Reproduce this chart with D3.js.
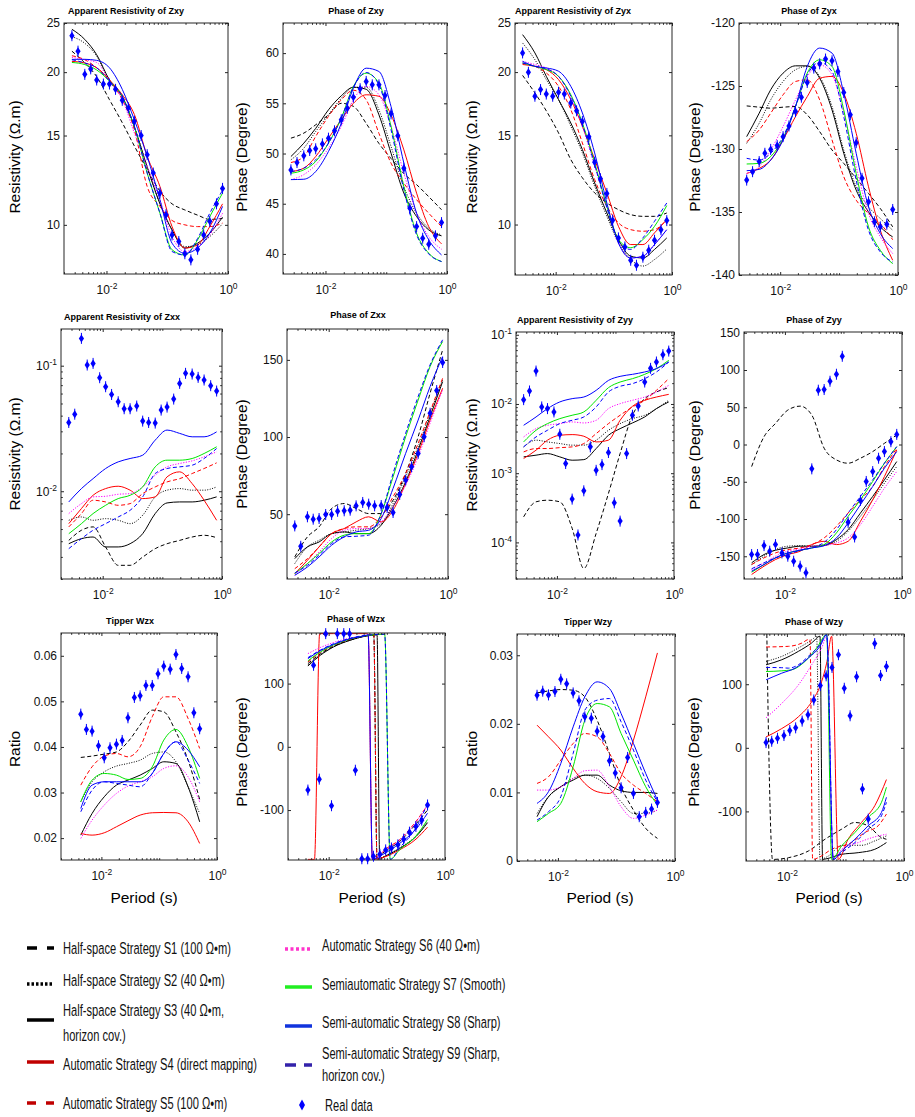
<!DOCTYPE html>
<html>
<head>
<meta charset="utf-8">
<script src="https://cdn.jsdelivr.net/npm/d3@7"></script>
<style>
  body { margin: 0; background: #fff; }
  svg { display: block; font-family: "Liberation Sans", Arial, Helvetica, sans-serif; }
  .tick text { font-size: 12px; fill: #111; }
  .tick line { stroke: #262626; }
</style>
</head>
<body>
<div id="chart"></div>
<script>
// periods (s)
var curvePer = [0.0027,0.0044,0.0069,0.0112,0.0182,0.0288,0.0468,0.0759,0.120,0.195,0.316,0.501,0.813];
var dataPer = [0.0027,0.0034,0.0044,0.0055,0.0069,0.0089,0.0112,0.0141,0.0182,0.0229,0.0288,0.0372,0.0468,0.0589,0.0759,0.0955,0.120,0.155,0.195,0.245,0.316,0.398,0.501,0.646,0.813];
var tipCurvePer = [0.0044,0.0069,0.0112,0.0182,0.0288,0.0468,0.0759,0.120,0.195,0.316,0.501];
var tipDataPer = [0.0044,0.0055,0.0069,0.0089,0.0112,0.0141,0.0182,0.0229,0.0288,0.0372,0.0468,0.0589,0.0759,0.0955,0.120,0.155,0.195,0.245,0.316,0.398,0.501];

// series order: S1..S9
var rhoXY = [
  [22.0,20.85,19.6,17.65,15.9,14.3,12.85,11.65,11.0,10.7,10.45,10.25,10.3],
  [23.5,22.8,21.5,19.2,17.8,15.6,13.0,11.0,9.77,9.06,9.13,9.48,10.05],
  [24.3,23.2,21.65,19.3,17.9,15.6,13.0,11.0,9.77,9.0,9.2,9.63,10.35],
  [21.0,20.85,20.4,19.3,18.05,16.5,13.65,11.9,9.92,9.0,9.13,9.92,11.0],
  [21.55,21.16,20.4,19.3,17.65,15.4,11.9,10.87,10.2,10.0,9.92,9.92,10.08],
  [21.4,21.16,20.9,19.2,17.65,15.17,13.03,11.2,9.48,8.86,9.06,9.55,10.54],
  [20.9,20.7,20.2,19.2,17.9,15.6,12.65,10.54,8.93,8.72,9.34,10.38,11.55],
  [21.2,21.2,21.1,20.4,18.5,16.1,13.65,11.2,9.2,8.79,9.0,9.63,10.87],
  [21.16,20.85,20.4,19.2,17.9,15.6,12.65,10.54,8.86,8.72,9.4,10.54,11.7]
];
var rhoXYData = [23.6,22.0,19.8,20.3,19.3,18.95,18.95,18.5,17.6,17.0,16.0,15.0,13.75,12.65,11.55,10.47,9.55,9.27,8.77,8.53,8.95,9.55,10.16,11.0,11.8];

var phsXY = [
  [51.53,52.03,52.86,53.85,55.0,54.7,53.0,51.0,49.5,48.0,46.9,45.7,44.4],
  [49.37,50.53,52.19,53.85,55.5,56.6,56.6,54.35,50.7,46.7,44.05,42.56,41.9],
  [49.7,51.03,52.5,54.35,55.75,56.6,56.4,53.85,50.03,46.05,43.72,42.39,41.8],
  [48.2,48.54,49.7,51.53,53.36,55.0,55.85,55.7,53.85,50.36,46.05,42.72,41.0],
  [49.1,49.7,51.7,53.7,55.35,56.3,55.35,52.0,49.04,47.04,45.4,44.05,42.72],
  [47.4,47.9,48.87,50.53,52.7,55.35,56.68,55.85,52.7,48.04,44.05,41.73,40.47],
  [48.04,48.37,49.2,51.03,53.52,56.68,58.0,57.0,52.7,46.7,42.06,40.07,39.24],
  [47.4,47.44,48.2,50.2,53.0,56.5,58.5,58.17,54.68,49.04,44.05,41.4,39.9],
  [48.2,48.54,49.37,51.03,53.52,56.6,58.07,56.84,52.36,46.38,41.9,40.0,39.24]
];
var phsXYData = [48.37,49.1,49.77,50.3,50.47,50.96,51.53,52.26,53.36,54.52,55.61,56.45,57.18,56.84,56.84,55.78,53.95,51.76,48.54,44.55,42.72,41.56,40.96,41.8,43.12];

var rhoYX = [
  [19.7,18.19,16.77,15.17,13.44,12.37,11.55,11.03,10.7,10.46,10.38,10.38,10.54],
  [22.83,21.16,19.33,17.65,15.64,13.85,11.9,10.38,9.2,8.53,8.28,8.53,8.95],
  [23.71,21.82,19.62,17.65,15.87,14.06,12.08,10.54,9.34,8.66,8.59,8.93,9.41],
  [20.7,20.53,20.23,19.33,17.65,15.64,13.44,11.55,9.92,9.13,9.13,9.63,10.23],
  [20.8,20.53,19.92,18.75,16.87,14.49,12.27,10.87,10.08,9.77,9.7,9.77,10.23],
  [21.0,20.7,20.38,19.62,17.92,15.64,13.03,10.87,9.2,8.59,8.66,9.13,9.77],
  [20.85,20.53,20.23,19.62,18.05,15.87,13.24,10.87,9.34,9.0,9.34,9.92,10.9],
  [21.0,20.53,20.38,20.08,18.75,16.61,13.85,11.03,9.2,8.59,8.66,9.13,9.77],
  [20.85,20.53,20.3,19.62,17.92,15.75,13.13,10.79,9.27,8.93,9.41,10.15,11.03]
];
var rhoYXData = [21.82,19.98,17.92,18.47,18.1,17.92,18.25,18.1,17.38,16.77,15.97,14.9,13.28,12.31,11.52,10.2,9.41,9.03,8.5,8.31,8.62,8.9,9.31,9.77,10.18];

var phsYX = [
  [-126.58,-126.68,-126.76,-126.68,-126.63,-127.29,-128.62,-130.08,-131.14,-132.33,-133.53,-134.72,-136.18],
  [-129.55,-127.96,-126.1,-124.64,-123.71,-123.45,-124.24,-126.63,-130.08,-133.0,-134.59,-135.52,-136.45],
  [-129.02,-127.16,-125.3,-123.98,-123.4,-123.4,-124.38,-126.9,-130.34,-133.26,-134.99,-136.18,-136.98],
  [-131.94,-131.54,-130.88,-129.28,-127.43,-125.84,-124.38,-124.24,-125.57,-128.75,-133.0,-136.45,-138.83],
  [-129.42,-128.49,-127.16,-125.7,-124.64,-124.51,-126.1,-129.28,-132.2,-134.06,-135.12,-135.92,-137.2],
  [-131.94,-131.4,-130.08,-128.22,-126.1,-124.24,-123.32,-124.11,-127.16,-131.4,-135.12,-136.98,-138.3],
  [-131.19,-131.14,-130.6,-129.15,-126.63,-123.98,-122.92,-123.45,-126.9,-131.94,-136.18,-138.04,-139.1],
  [-131.72,-131.62,-130.88,-129.28,-126.63,-123.45,-121.99,-122.39,-125.57,-130.34,-134.59,-136.71,-137.9],
  [-130.74,-130.88,-130.34,-129.02,-126.63,-124.11,-123.13,-123.85,-127.43,-132.47,-136.45,-138.17,-138.97]
];
var phsYXData = [-132.47,-131.8,-131.0,-130.34,-130.03,-129.73,-129.02,-128.17,-127.03,-125.89,-124.72,-123.58,-123.24,-122.86,-123.0,-123.85,-125.52,-127.29,-129.5,-132.33,-134.19,-135.78,-136.18,-135.97,-134.8];

var rhoXX = [
  [0.00406,0.00489,0.0052,0.0036,0.00257,0.00257,0.00299,0.00349,0.00382,0.00406,0.00432,0.00446,0.00427],
  [0.00587,0.00624,0.00587,0.00605,0.00587,0.00552,0.00644,0.00902,0.0102,0.0105,0.0102,0.0102,0.01083],
  [0.00382,0.00419,0.00432,0.0036,0.0036,0.00382,0.00459,0.00664,0.00807,0.00822,0.00822,0.00848,0.00902],
  [0.00552,0.00728,0.00929,0.0105,0.01096,0.0102,0.00874,0.00902,0.01302,0.01427,0.0115,0.00848,0.00587],
  [0.0052,0.00664,0.00848,0.00822,0.00773,0.00797,0.00958,0.01083,0.01187,0.0126,0.01384,0.01517,0.01683],
  [0.00664,0.00797,0.00902,0.00912,0.00946,0.00958,0.01083,0.01343,0.01564,0.01663,0.01746,0.01879,0.0206],
  [0.00459,0.00552,0.00664,0.00773,0.00874,0.00929,0.01083,0.01564,0.01768,0.01768,0.01823,0.01998,0.0226],
  [0.00822,0.0105,0.0126,0.01517,0.01714,0.01823,0.01937,0.02553,0.0307,0.0289,0.02714,0.02714,0.02973],
  [0.00349,0.00419,0.00489,0.00552,0.00624,0.00705,0.00902,0.01384,0.01517,0.01564,0.01612,0.01823,0.0219]
];
var rhoXXData = [0.0353,0.0411,0.165,0.1012,0.1043,0.0802,0.068,0.059,0.0516,0.0454,0.0454,0.0477,0.0362,0.0353,0.0349,0.0443,0.0468,0.0542,0.0723,0.0869,0.0858,0.0807,0.0769,0.0693,0.0628];

var phsXX = [
  [22.3,35.3,41.8,53.7,56.9,53.7,50.4,50.4,59.1,76.4,100.2,128.4,156.5],
  [18,28.8,33.1,37.4,38.5,39.6,40.7,43.9,56.9,74.2,93.7,115.4,137.0],
  [21.2,28.8,32.0,37.4,38.5,37.4,37.4,42.9,54.8,71.0,91.6,113.2,135.9],
  [11.5,20.1,28.8,37.4,40.7,45.0,48.3,45.0,52.6,69.9,89.4,111.0,131.6],
  [14.7,21.2,28.8,37.4,40.7,41.8,41.8,48.3,61.3,76.4,95.9,116.5,138.1],
  [10.4,18.0,25.5,34.2,39.6,40.7,40.7,45.0,54.8,68.8,87.2,108.9,130.5],
  [11.5,18.0,24.5,32.0,36.4,37.4,37.4,50.4,74.2,100.2,124.0,145.7,161.9],
  [10.4,15.8,22.3,29.9,35.3,38.5,39.6,47.2,66.7,89.4,111.0,132.7,152.2],
  [11.9,16.9,23.4,31.0,35.3,35.7,36.4,50.4,76.4,102.4,126.2,146.8,163.0]
];
var phsXXData = [42.4,29.2,48.3,46.75,47.2,49.8,49.8,51.9,52.2,52.6,55.4,57.6,56.5,55.4,55.6,54.3,51.1,62.8,72.1,80.7,89.4,100.2,115.4,130.1,148.3];

var rhoYY = [
  [0.000234,0.000386,0.000407,0.000386,0.00016,0.000042,0.000135,0.00051,0.00192,0.00687,0.01194,0.0149,0.0172],
  [0.0024,0.003,0.00283,0.00268,0.00254,0.00254,0.003,0.00417,0.0052,0.00614,0.00687,0.00857,0.0113],
  [0.00172,0.00182,0.00192,0.00172,0.00154,0.00157,0.00227,0.00353,0.0044,0.00532,0.00649,0.00857,0.0107],
  [0.00163,0.00215,0.003,0.00353,0.00361,0.00342,0.00283,0.003,0.00581,0.00925,0.0113,0.0126,0.01377],
  [0.00203,0.00227,0.00227,0.00234,0.0024,0.00268,0.00373,0.0052,0.00687,0.00906,0.0113,0.01574,0.0232],
  [0.00334,0.0044,0.00492,0.0052,0.0055,0.00532,0.00581,0.00857,0.0101,0.0113,0.0126,0.0149,0.01858],
  [0.00283,0.00417,0.0052,0.00614,0.00687,0.00767,0.0113,0.0172,0.02075,0.0232,0.0268,0.0324,0.0427],
  [0.00492,0.00649,0.00857,0.0107,0.01194,0.0126,0.01574,0.0219,0.02506,0.0268,0.029,0.0324,0.0404],
  [0.0024,0.00334,0.00417,0.0052,0.00581,0.00649,0.00906,0.0149,0.018,0.01965,0.0232,0.029,0.0404]
];
var rhoYYData = [0.01155,0.0154,0.0299,0.00906,0.00857,0.00767,0.00365,0.00138,0.000422,0.000128,0.000556,0.0024,0.0011,0.00133,0.00199,0.000373,0.000203,0.00192,0.00687,0.00935,0.02075,0.0327,0.0404,0.0515,0.0581];

var phsYY = [
  [-29.6,10.5,28.3,46.2,51.5,39.5,-5.0,-20.7,-25.1,-18.4,-9.5,1.6,12.7],
  [-161.1,-149.9,-141.0,-136.5,-135.7,-136.5,-134.3,-129.9,-116.5,-96.4,-74.2,-51.9,-29.6],
  [-158.8,-147.7,-141.9,-138.8,-136.5,-136.5,-135.7,-127.6,-114.3,-92.0,-69.7,-47.4,-22.9],
  [-174.4,-163.3,-154.4,-147.7,-143.2,-134.3,-129.9,-134.3,-129.9,-103.1,-74.2,-43.0,-7.3],
  [-161.1,-152.1,-145.5,-141.0,-138.8,-134.3,-125.4,-109.8,-92.0,-74.2,-56.3,-29.6,-5.1],
  [-167.7,-158.8,-149.9,-143.2,-140.1,-136.5,-135.7,-132.1,-125.4,-107.6,-83.1,-58.6,-36.3],
  [-171.3,-161.1,-152.1,-145.5,-141.9,-138.8,-134.3,-118.7,-96.4,-74.2,-49.6,-25.1,-2.9],
  [-170.0,-161.1,-152.1,-145.5,-141.9,-138.8,-135.7,-125.4,-105.3,-80.8,-56.3,-31.8,-9.5],
  [-166.8,-158.8,-152.1,-147.7,-141.9,-138.8,-131.2,-114.3,-92.0,-69.7,-47.4,-25.1,-2.9]
];
var phsYYData = [-147.7,-147.7,-135.7,-143.2,-134.3,-145.5,-149.9,-156.6,-163.3,-172.2,-32.7,72.9,73.8,84.9,94.3,118.4,-104.5,-124.1,-75.0,-49.6,-36.3,-18.4,-9.5,3.8,13.6];

var tipZX = [
  [0.0377,0.038,0.03843,0.0389,0.04113,0.04479,0.04808,0.04771,0.0433,0.0371,0.0285],
  [0.028,0.03236,0.03455,0.0358,0.03638,0.03711,0.03857,0.0389,0.03675,0.03126,0.02541],
  [0.02066,0.02541,0.02907,0.03163,0.03272,0.03382,0.03528,0.03675,0.03638,0.03126,0.02358],
  [0.0210,0.02066,0.02117,0.02249,0.0238,0.02505,0.02556,0.02563,0.02556,0.02358,0.01883],
  [0.03163,0.03565,0.038,0.03857,0.03784,0.04004,0.04662,0.051,0.051,0.04625,0.03967],
  [0.01993,0.02395,0.02724,0.0298,0.03141,0.03236,0.03345,0.03528,0.03587,0.03345,0.02797],
  [0.028,0.03272,0.03418,0.03382,0.03287,0.03309,0.03565,0.0415,0.04384,0.04004,0.03309],
  [0.02651,0.03163,0.03236,0.03236,0.03236,0.03236,0.03418,0.03857,0.04113,0.0393,0.03565],
  [0.02578,0.03053,0.03236,0.032,0.03163,0.03126,0.03418,0.03857,0.04113,0.03711,0.032]
];
var tipZXData = [0.0472,0.04384,0.04347,0.04026,0.03762,0.03982,0.04062,0.04143,0.0464,0.05086,0.05122,0.05349,0.05349,0.05605,0.05773,0.05707,0.06029,0.05722,0.05539,0.0475,0.04399];

// phase of tipper wraps at +-180, so each series keeps its own [period, value] pairs
var phsWZX = [
  [[0.0044,131.6],[0.00718,147],[0.0121,159],[0.0232,169],[0.0447,175.5],[0.0596,177],[0.0679,-178],[0.0859,-168],[0.165,-150],[0.317,-122],[0.501,-100]],
  [[0.0044,129.5],[0.00718,146],[0.0121,158.5],[0.0232,168.5],[0.0447,175.3],[0.0596,177],[0.0679,-178],[0.0859,-174],[0.165,-160],[0.317,-141],[0.501,-118]],
  [[0.0044,127.9],[0.00718,144.7],[0.0121,157.9],[0.0232,168.4],[0.0447,175.3],[0.0679,177],[0.0754,-178],[0.0859,-175],[0.165,-161],[0.317,-142],[0.501,-120]],
  [[0.0044,-178],[0.0057,-178],[0.0070,179],[0.0121,179],[0.0232,179],[0.0447,179],[0.0477,178],[0.0565,-178],[0.0859,-175],[0.165,-163],[0.317,-146],[0.501,-127]],
  [[0.0044,134.2],[0.00718,149],[0.0121,160.5],[0.0232,170],[0.0447,176],[0.0596,177],[0.0679,-178],[0.0859,-166],[0.165,-147],[0.317,-118],[0.501,-92]],
  [[0.0044,147.4],[0.00718,157],[0.0121,165],[0.0232,172],[0.0447,177],[0.0477,178],[0.0565,-178],[0.0859,-166],[0.165,-148],[0.317,-119],[0.501,-92]],
  [[0.0044,136],[0.00718,150],[0.0121,161],[0.0232,170.5],[0.0447,176],[0.0917,178],[0.1145,-178],[0.165,-163],[0.317,-141],[0.501,-115]],
  [[0.0044,139.5],[0.00718,152],[0.0121,162],[0.0232,171],[0.0447,176.5],[0.0477,177.5],[0.0565,-178],[0.0859,-170],[0.165,-153],[0.317,-130],[0.501,-105]],
  [[0.0044,141],[0.00718,153],[0.0121,163],[0.0232,171.5],[0.0447,176.5],[0.0917,178],[0.1145,-178],[0.165,-160],[0.317,-128],[0.501,-90]]
];
var phsWZXData = [-68.4,128.9,-51.1,179,-93.2,179,179,179,-37,-177,-177,-173,-170,-163,-160,-155,-146,-135,-126,-116,-92];

var tipZY = [
  [0.02451,0.0248,0.025,0.0249,0.02393,0.02053,0.01568,0.01083,0.00743,0.00476,0.0033],
  [0.00694,0.00937,0.01083,0.01204,0.01252,0.01204,0.01058,0.00864,0.00694,0.00694,0.00743],
  [0.00646,0.00937,0.01083,0.0118,0.01252,0.01252,0.01107,0.01024,0.01,0.01,0.00985],
  [0.01981,0.01811,0.01617,0.0135,0.01131,0.0101,0.00985,0.01228,0.01762,0.02393,0.03034],
  [0.01131,0.01228,0.01471,0.01714,0.01859,0.01811,0.01568,0.01277,0.01107,0.00985,0.00864],
  [0.01034,0.01034,0.01083,0.01204,0.01316,0.01325,0.01083,0.00791,0.00621,0.0067,0.00743],
  [0.00573,0.00694,0.0084,0.01374,0.02053,0.02296,0.02248,0.01859,0.01471,0.01083,0.00816],
  [0.0084,0.0101,0.01422,0.01956,0.02393,0.02612,0.02515,0.0215,0.01714,0.01277,0.00888],
  [0.00597,0.00718,0.00937,0.01568,0.02199,0.02345,0.02369,0.02029,0.01617,0.0118,0.00864]
];
var tipZYData = [0.02417,0.02476,0.02422,0.02471,0.0265,0.02583,0.02451,0.02335,0.02102,0.02083,0.01893,0.01816,0.01461,0.01282,0.01068,0.0151,0.00985,0.00646,0.00709,0.00757,0.00854];

var phsWZY = [
  [[0.00454,179],[0.00487,9],[0.00568,-175.5],[0.0106,-172.8],[0.0232,-162.3],[0.0447,-143.8],[0.0859,-128],[0.145,-117.4],[0.244,-122.7],[0.412,-141.2],[0.501,-143.8]],
  [[0.0044,135.9],[0.00817,143.8],[0.0157,157],[0.0283,171.8],[0.0322,176],[0.0367,-175.5],[0.0509,-170.2],[0.0859,-153.3],[0.188,-153.3],[0.317,-146.4],[0.501,-138.5]],
  [[0.0044,130.6],[0.00817,138.5],[0.0157,151.7],[0.0265,164.9],[0.0367,175.5],[0.0407,-175.5],[0.0447,-175],[0.0859,-167.5],[0.165,-164.9],[0.317,-159.6],[0.501,-149]],
  [[0.0044,17.2],[0.00817,30.3],[0.0157,48.8],[0.0265,72.6],[0.0392,104.2],[0.0477,133.2],[0.0581,175.5],[0.0754,-175.5],[0.111,-143.8],[0.188,-117.4],[0.317,-91],[0.501,-49.9]],
  [[0.0044,158.6],[0.0106,159.6],[0.0183,165],[0.0232,170.2],[0.0248,170.2],[0.0275,-175.5],[0.0344,-172.8],[0.058,-159.6],[0.127,-149],[0.214,-133.2],[0.361,-122.7],[0.501,-104.2]],
  [[0.0044,47.2],[0.00817,69.9],[0.0157,98.9],[0.0265,130.6],[0.0392,157],[0.0477,175.5],[0.062,-175.5],[0.0859,-159.6],[0.165,-149],[0.317,-140],[0.501,-135.9]],
  [[0.0044,120],[0.00817,121.1],[0.0121,122.7],[0.0204,135.9],[0.0322,157],[0.0477,178],[0.058,-175.5],[0.0859,-154.4],[0.145,-133.2],[0.244,-109.5],[0.412,-85.8],[0.501,-62]],
  [[0.0044,106.9],[0.00817,117.4],[0.0138,125.3],[0.0232,141.2],[0.0367,159.6],[0.0477,178],[0.062,-175.5],[0.0859,-162.3],[0.145,-143.8],[0.244,-122.7],[0.412,-101.6],[0.501,-77.8]],
  [[0.0044,126.4],[0.00817,126],[0.0106,125.3],[0.0157,130.6],[0.0232,143.8],[0.0367,162.3],[0.0477,178],[0.062,-175.5],[0.0859,-164.9],[0.145,-149],[0.244,-128],[0.412,-106.9],[0.501,-85.8]]
];
var phsWZYData = [8.2,10.3,15.0,19.3,27.2,31.4,42.0,52.0,75.2,97.9,113.2,126.4,146.4,93.7,50.4,111.6,-64.6,-112.1,163.9,113.7,128.0];

var legendLabels = [
  ['Half-space Strategy S1 (100 Ω•m)'],
  ['Half-space Strategy S2 (40 Ω•m)'],
  ['Half-space Strategy S3 (40 Ω•m,', 'horizon cov.)'],
  ['Automatic Strategy S4 (direct mapping)'],
  ['Automatic Strategy S5 (100 Ω•m)'],
  ['Automatic Strategy S6 (40 Ω•m)'],
  ['Semiautomatic Strategy S7 (Smooth)'],
  ['Semi-automatic Strategy S8 (Sharp)'],
  ['Semi-automatic Strategy S9 (Sharp,', 'horizon cov.)'],
  ['Real data']
];

// line styles in the plots
var styles = [
  {c: '#000', d: '4,2.5'}, {c: '#000', d: '1,1.5'}, {c: '#000', d: null},
  {c: '#ff0000', d: null}, {c: '#ff0000', d: '4,2.5'}, {c: '#ff00ff', d: '1.2,1.5'},
  {c: '#00e600', d: null}, {c: '#0000ff', d: null}, {c: '#0000ff', d: '4,2.5'}
];
// legend line styles (thicker, slightly different shades)
var legStyles = [
  {c: '#000', d: '10,10'}, {c: '#000', d: '2.5,2'}, {c: '#000', d: null},
  {c: '#c00000', d: null}, {c: '#c00000', d: '9,10'}, {c: '#ff33cc', d: '3,2.5'},
  {c: '#22ee22', d: null}, {c: '#1133dd', d: null}, {c: '#3322aa', d: '11,8'}
];

var plain = function(d) { return String(+d.toFixed(4)); };

var panels = [
  {title: 'Apparent Resistivity of Zxy', box: [64,23,228,274], log: true, yd: [8,25], yt: [10,15,20,25], yl: 'Resistivity (Ω.m)', curves: rhoXY, data: rhoXYData, tx: 126, ty: 14, lx: 15, ly: 157},
  {title: 'Phase of Zxy', box: [283,23,447,274], yd: [38,63], yt: [40,45,50,55,60], yl: 'Phase (Degree)', curves: phsXY, data: phsXYData, tx: 356, ty: 14, lx: 242, ly: 157},
  {title: 'Apparent Resistivity of Zyx', box: [515,23,672,275], log: true, yd: [7.95,25], yt: [10,15,20,25], yl: 'Resistivity (Ω.m)', curves: rhoYX, data: rhoYXData, tx: 573, ty: 14, lx: 472, ly: 157},
  {title: 'Phase of Zyx', box: [739,23,898,275], yd: [-140,-120], yt: [-140,-135,-130,-125,-120], yl: 'Phase (Degree)', curves: phsYX, data: phsYXData, tx: 809, ty: 14, lx: 695, ly: 157},
  {title: 'Apparent Resistivity of Zxx', box: [61,329,222,579], log: true, exp: true, yd: [0.002,0.196], yt: [0.01,0.1], yl: 'Resistivity (Ω.m)', curves: rhoXX, data: rhoXXData, tx: 122, ty: 320, lx: 15, ly: 454},
  {title: 'Phase of Zxx', box: [287,329,448,579], yd: [8,170], yt: [50,100,150], yl: 'Phase (Degree)', curves: phsXX, data: phsXXData, tx: 358, ty: 318, lx: 242, ly: 454},
  {title: 'Apparent Resistivity of Zyy', box: [516,332,674,579], log: true, exp: true, yd: [2.96e-5,0.1096], yt: [0.0001,0.001,0.01,0.1], yl: 'Resistivity (Ω.m)', curves: rhoYY, data: rhoYYData, tx: 575, ty: 323, lx: 472, ly: 455},
  {title: 'Phase of Zyy', box: [744,332,902,579], yd: [-180.5,151], yt: [-150,-100,-50,0,50,100,150], yl: 'Phase (Degree)', curves: phsYY, data: phsYYData, tx: 814, ty: 323, lx: 695, ly: 455},
  {title: 'Tipper Wzx', box: [61,633,217,860], yd: [0.0152,0.065], yt: [0.02,0.03,0.04,0.05,0.06], yl: 'Ratio', curves: tipZX, data: tipZXData, tip: true, tx: 130, ty: 624, lx: 15, ly: 749, xl: 144},
  {title: 'Phase of Wzx', box: [288,633,445,860], yd: [-179,180], yt: [-100,0,100], yl: 'Phase (Degree)', curves: phsWZX, pairs: true, data: phsWZXData, tip: true, tx: 356, ty: 622, lx: 242, ly: 752, xl: 372},
  {title: 'Tipper Wzy', box: [517,634,675,861], yd: [0,0.0331], yt: [0,0.01,0.02,0.03], yl: 'Ratio', curves: tipZY, data: tipZYData, tip: true, tx: 588, ty: 625, lx: 472, ly: 749, xl: 600},
  {title: 'Phase of Wzy', box: [746,634,904,861], yd: [-178,179], yt: [-100,0,100], yl: 'Phase (Degree)', curves: phsWZY, pairs: true, data: phsWZYData, tip: true, tx: 814, ty: 625, lx: 694, ly: 752, xl: 829}
];

var svg = d3.select('#chart').append('svg').attr('width', 915).attr('height', 1117);
svg.append('rect').attr('width', 915).attr('height', 1117).attr('fill', '#fff');

// superscript label "10^n"
function powLabel(sel, d) {
  var e = Math.round(Math.log10(d));
  sel.text('10');
  sel.append('tspan').attr('dy', '-0.55em').style('font-size', '8.5px').text(e);
}

function minorTicks(scale) {
  return scale.ticks().filter(function(v) {
    var l = Math.log10(v);
    return Math.abs(l - Math.round(l)) > 1e-6 || Math.round(l) === -1;
  });
}

panels.forEach(function(p, pi) {
  var l = p.box[0], t = p.box[1], r = p.box[2], b = p.box[3];
  var g = svg.append('g');
  var x = d3.scaleLog().domain([0.002, 1]).range([l, r]);
  var y = (p.log ? d3.scaleLog() : d3.scaleLinear()).domain(p.yd).range([b, t]);

  var clipId = 'clip' + pi;
  g.append('clipPath').attr('id', clipId).append('rect')
    .attr('x', l).attr('y', t).attr('width', r - l).attr('height', b - t);

  var plot = g.append('g').attr('clip-path', 'url(#' + clipId + ')');
  var line = d3.line()
    .x(function(d) { return x(d[0]); })
    .y(function(d) { return y(d[1]); })
    .curve(d3.curveMonotoneX);

  var cper = p.tip ? tipCurvePer : curvePer;
  p.curves.forEach(function(vals, si) {
    var pts = p.pairs ? vals : cper.map(function(per, i) { return [per, vals[i]]; });
    plot.append('path').datum(pts)
      .attr('fill', 'none')
      .attr('stroke', styles[si].c)
      .attr('stroke-width', 1)
      .attr('stroke-dasharray', styles[si].d)
      .attr('d', line);
  });

  // axes
  var yl = g.append('g').attr('transform', 'translate(' + l + ',0)')
    .call(d3.axisLeft(y).tickValues(p.yt).tickSize(-3).tickSizeOuter(0).tickPadding(4)
      .tickFormat(p.exp ? '' : plain));
  if (p.exp) yl.selectAll('.tick text').each(function(d) { powLabel(d3.select(this), d); });
  g.append('g').attr('transform', 'translate(' + r + ',0)')
    .call(d3.axisRight(y).tickValues(p.yt).tickSize(-3).tickSizeOuter(0).tickFormat(''));
  if (p.exp) {
    var ym = minorTicks(y).filter(function(v) { return p.yt.indexOf(v) < 0; });
    g.append('g').attr('transform', 'translate(' + l + ',0)')
      .call(d3.axisLeft(y).tickValues(ym).tickSize(-1.8).tickSizeOuter(0).tickFormat(''));
    g.append('g').attr('transform', 'translate(' + r + ',0)')
      .call(d3.axisRight(y).tickValues(ym).tickSize(-1.8).tickSizeOuter(0).tickFormat(''));
  }
  var xb = g.append('g').attr('transform', 'translate(0,' + b + ')')
    .call(d3.axisBottom(x).tickValues([0.01, 1]).tickSize(-3).tickSizeOuter(0).tickPadding(11).tickFormat(''));
  xb.selectAll('.tick text').each(function(d) { powLabel(d3.select(this), d); });
  g.append('g').attr('transform', 'translate(0,' + t + ')')
    .call(d3.axisTop(x).tickValues([0.01, 1]).tickSize(-3).tickSizeOuter(0).tickFormat(''));
  var xm = minorTicks(x);
  g.append('g').attr('transform', 'translate(0,' + b + ')')
    .call(d3.axisBottom(x).tickValues(xm).tickSize(-1.8).tickSizeOuter(0).tickFormat(''));
  g.append('g').attr('transform', 'translate(0,' + t + ')')
    .call(d3.axisTop(x).tickValues(xm).tickSize(-1.8).tickSizeOuter(0).tickFormat(''));
  g.selectAll('.domain').remove();

  g.append('rect').attr('x', l).attr('y', t).attr('width', r - l).attr('height', b - t)
    .attr('fill', 'none').attr('stroke', '#262626').attr('stroke-width', 1);

  // real data: diamonds with short error bars (not clipped, like the original)
  var dper = p.tip ? tipDataPer : dataPer;
  var pts = g.selectAll('g.pt').data(p.data).enter().append('g').attr('class', 'pt')
    .attr('transform', function(d, i) { return 'translate(' + x(dper[i]) + ',' + y(d) + ')'; });
  pts.append('line').attr('y1', -5.5).attr('y2', 5.5).attr('stroke', '#0000ff').attr('stroke-width', 1);
  pts.append('path').attr('d', 'M0,-4L2.6,0L0,4L-2.6,0Z').attr('fill', '#0000ff');

  g.append('text').attr('x', p.tx).attr('y', p.ty).attr('text-anchor', 'middle')
    .style('font-size', '9px').style('font-weight', 'bold').text(p.title);

  g.append('text').attr('transform', 'translate(' + p.lx + ',' + p.ly + ') rotate(-90)')
    .attr('text-anchor', 'middle').attr('dy', '0.35em').style('font-size', '15.5px').text(p.yl);

  if (p.xl) {
    g.append('text').attr('x', p.xl).attr('y', 903).attr('text-anchor', 'middle')
      .style('font-size', '15.5px').text('Period (s)');
  }
});

// legend
var legPos = [
  {sx: 27, sy: 948, tx: 63, ty: [954]},
  {sx: 27, sy: 984, tx: 63, ty: [986]},
  {sx: 27, sy: 1020, tx: 63, ty: [1016, 1041]},
  {sx: 27, sy: 1062, tx: 63, ty: [1070]},
  {sx: 27, sy: 1103, tx: 63, ty: [1109]},
  {sx: 285, sy: 949, tx: 322, ty: [951]},
  {sx: 285, sy: 987, tx: 322, ty: [990]},
  {sx: 285, sy: 1026, tx: 322, ty: [1028]},
  {sx: 285, sy: 1065, tx: 322, ty: [1059, 1081]},
  {sx: 302, sy: 1105, tx: 325, ty: [1111]}
];
var leg = svg.append('g');
legendLabels.forEach(function(lines, i) {
  var pos = legPos[i];
  if (i < 9) {
    leg.append('line').attr('x1', pos.sx).attr('x2', pos.sx + 27).attr('y1', pos.sy).attr('y2', pos.sy)
      .attr('stroke', legStyles[i].c).attr('stroke-width', 3.5).attr('stroke-dasharray', legStyles[i].d);
  } else {
    leg.append('path').attr('transform', 'translate(' + pos.sx + ',' + pos.sy + ')')
      .attr('d', 'M0,-5.5L3,0L0,5.5L-3,0Z').attr('fill', '#0000ff');
  }
  lines.forEach(function(txt, k) {
    leg.append('text')
      .attr('transform', 'translate(' + pos.tx + ',' + pos.ty[k] + ') scale(0.654,1)')
      .style('font-size', '17px').style('fill', '#111').text(txt);
  });
});
</script>
</body>
</html>
